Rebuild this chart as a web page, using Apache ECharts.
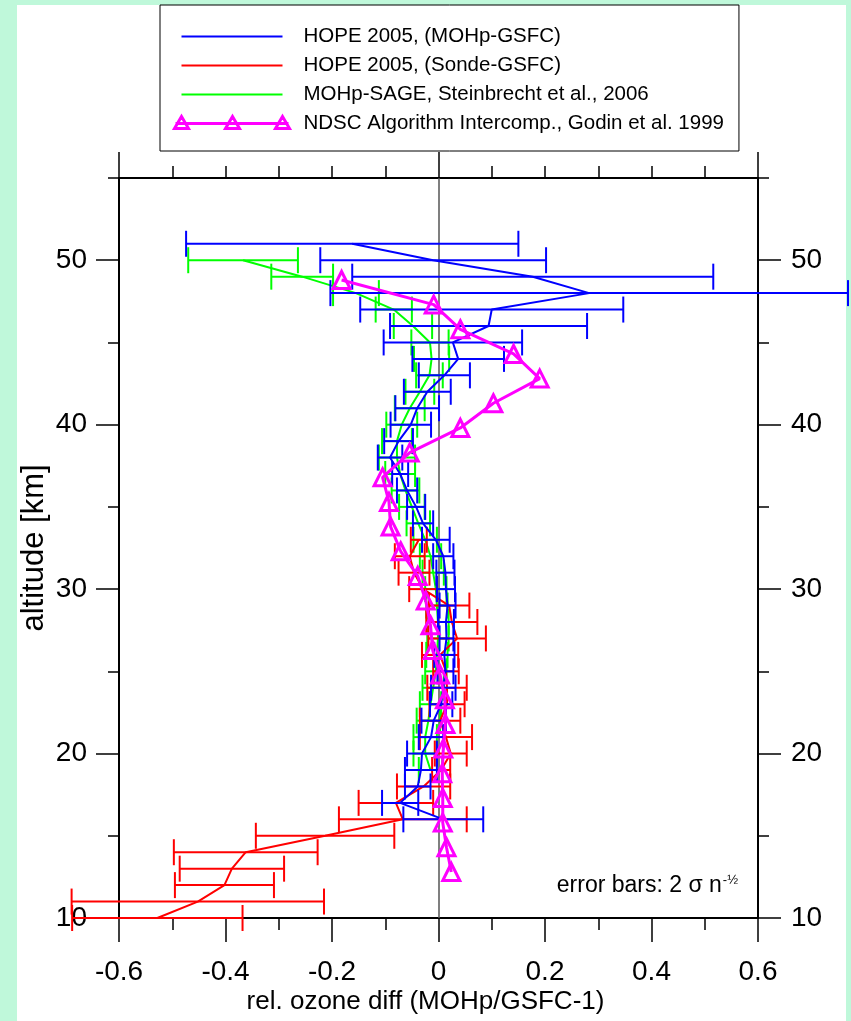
<!DOCTYPE html>
<html><head><meta charset="utf-8">
<script src="https://cdn.jsdelivr.net/npm/echarts@6/dist/echarts.min.js"></script>
<style>html,body{margin:0;padding:0;background:#bff8da;} #c{width:851px;height:1021px;}</style>
</head><body><div id="c"></div>
<script>
// ---- data ----
const seriesNames = ['HOPE 2005, (MOHp-GSFC)', 'HOPE 2005, (Sonde-GSFC)', 'MOHp-SAGE, Steinbrecht et al., 2006', 'NDSC Algorithm Intercomp., Godin et al. 1999'];
const altBlue = [51,50,49,48,47,46,45,44,43,42,41,40,39,38,37,36,35,34,33,32,31,30,29,28,27,26,25,24,23,22,21,20,19,18,17,16];
const valBlue = [-0.162,-0.010,0.177,0.283,0.100,0.094,0.027,0.037,0.011,-0.021,-0.040,-0.052,-0.075,-0.091,-0.072,-0.059,-0.042,-0.029,-0.005,0.009,0.013,0.014,0.017,0.014,0.015,0.011,0.013,0.009,0.005,-0.009,-0.014,-0.031,-0.033,-0.039,-0.072,0.009];
const errBlue = [0.312,0.212,0.339,0.486,0.247,0.185,0.130,0.086,0.048,0.044,0.041,0.038,0.027,0.023,0.015,0.019,0.017,0.019,0.026,0.019,0.017,0.017,0.015,0.015,0.013,0.019,0.015,0.023,0.021,0.023,0.023,0.028,0.030,0.024,0.034,0.075];
const altRed = [10,11,12,13,14,15,16,17,18,19,20,21,22,23,24,25,26,27,28,29,30,31,32,33];
const valRed = [-0.528,-0.452,-0.402,-0.388,-0.362,-0.213,-0.067,-0.080,-0.028,0.005,0.023,0.014,0.003,0.016,0.016,0.014,0.003,0.035,0.025,0.020,-0.029,-0.046,-0.054,-0.037];
const errRed = [0.160,0.237,0.093,0.098,0.135,0.130,0.120,0.070,0.050,0.017,0.030,0.049,0.038,0.033,0.037,0.024,0.034,0.054,0.048,0.038,0.026,0.029,0.028,0.015];
const altGreen = [50,49,48,47,46,45,44,43,42,41,40,39,38,37,36,35,34,33,32,31,30,29,28,27,26,25,24,23,22,21,20,19];
const valGreen = [-0.367,-0.256,-0.155,-0.084,-0.048,-0.016,-0.013,-0.017,-0.035,-0.054,-0.069,-0.078,-0.078,-0.072,-0.062,-0.050,-0.038,-0.025,-0.015,-0.010,-0.005,-0.003,-0.001,-0.001,-0.003,-0.005,-0.010,-0.015,-0.019,-0.025,-0.025,-0.015];
const errGreen = [0.103,0.058,0.043,0.034,0.036,0.035,0.033,0.025,0.027,0.028,0.029,0.028,0.034,0.028,0.026,0.024,0.022,0.022,0.020,0.020,0.020,0.020,0.020,0.020,0.020,0.020,0.020,0.020,0.022,0.022,0.022,0.022];
const altNdsc = [48.8,47.3,45.8,44.3,42.8,41.3,39.8,38.3,36.8,35.3,33.8,32.3,30.8,29.3,27.8,26.3,24.8,23.3,21.8,20.3,18.8,17.3,15.8,14.3,12.8];
const valNdsc = [-0.182,-0.009,0.041,0.141,0.190,0.103,0.041,-0.054,-0.105,-0.093,-0.090,-0.071,-0.039,-0.024,-0.015,-0.011,0.003,0.012,0.013,0.009,0.007,0.008,0.008,0.015,0.024];
const xTickLabels = ['-0.6','-0.4','-0.2','0','0.2','0.4','0.6'];
const yTickLabels = ['10','20','30','40','50'];
const yTickValues = [10,20,30,40,50];

const colors = ['#0000ff','#ff0000','#00ff00','#ff00ff'];
const FONT = 'Liberation Sans, Arial, sans-serif';

function pts(v, a){ return v.map((x,i)=>[x, a[i]]); }
function errPts(v, a, e){ return v.map((x,i)=>[x, a[i], e[i]]); }
function errRender(color){
  return function(params, api){
    const x = api.value(0), y = api.value(1), e = api.value(2);
    const p = api.coord([x - e, y]), q = api.coord([x + e, y]);
    const h = 13, st = {stroke: color, lineWidth: 2};
    return {type:'group', children:[
      {type:'line', shape:{x1:p[0],y1:p[1],x2:q[0],y2:q[1]}, style:st},
      {type:'line', shape:{x1:p[0],y1:p[1]-h,x2:p[0],y2:p[1]+h}, style:st},
      {type:'line', shape:{x1:q[0],y1:q[1]-h,x2:q[0],y2:q[1]+h}, style:st}
    ]};
  };
}
function errSeries(v,a,e,color,z){
  return {type:'custom', renderItem: errRender(color), data: errPts(v,a,e), encode:{x:0,y:1}, clip:false, silent:true, z:z, xAxisIndex:0, yAxisIndex:0};
}

const lineIcon = 'path://M0,0M124,20M7,10L108,10';
const triIcon = 'path://M0,0M124,20M1,10L114,10M7,3L14,15L0,15ZM58,3L65,15L51,15ZM108,3L115,15L101,15Z';

const axisBlack = {color:'#000', width:2};
const tickBlack = {color:'#000', width:1.5};
function xAx(pos, interval, len, extra){
  return Object.assign({type:'value', position:pos, min:-0.6, max:0.6, interval:interval,
    axisLine:{show:false, onZero:false}, axisTick:{show:true, inside:false, length:len, lineStyle:tickBlack},
    axisLabel:{show:false}, splitLine:{show:false}}, extra||{});
}
function yAx(pos, interval, len, extra){
  return Object.assign({type:'value', position:pos, min:10, max:55, interval:interval,
    axisLine:{show:false, onZero:false}, axisTick:{show:true, inside:false, length:len, lineStyle:tickBlack},
    axisLabel:{show:false}, splitLine:{show:false}}, extra||{});
}

const chart = echarts.init(document.getElementById('c'), null, {renderer:'canvas'});
chart.setOption({
  backgroundColor: '#bff8da',
  animation: false,
  textStyle: {fontFamily: FONT},
  graphic: [
    {type:'rect', z:-10, silent:true, shape:{x:17, y:5, width:829, height:1016}, style:{fill:'#ffffff'}},
    {type:'text', z:10, silent:true, right: 851-738, top: 874,
     style:{text:'{a|error bars: 2 σ n}{s|-½}', rich:{a:{fontSize:23, fontFamily:FONT, fill:'#000'}, s:{fontSize:13, fontFamily:FONT, fill:'#000', verticalAlign:'top', padding:[0,0,10,1]}}}}
  ],
  grid: {left:119, right:93, top:178, bottom:103, containLabel:false},
  legend: {
    orient:'vertical', left:160, top:5, padding:[19,15,15,12], itemGap:4, itemWidth:124, itemHeight:20,
    borderColor:'#000', borderWidth:1, backgroundColor:'#fff', selectedMode:false,
    textStyle:{fontFamily:FONT, fontSize:20.5, color:'#000'},
    data: [
      {name: seriesNames[0], icon: lineIcon, itemStyle:{color:'none', borderColor:colors[0], borderWidth:2}},
      {name: seriesNames[1], icon: lineIcon, itemStyle:{color:'none', borderColor:colors[1], borderWidth:2}},
      {name: seriesNames[2], icon: lineIcon, itemStyle:{color:'none', borderColor:colors[2], borderWidth:2}},
      {name: seriesNames[3], icon: triIcon, itemStyle:{color:'none', borderColor:colors[3], borderWidth:3}}
    ]
  },
  xAxis: [
    xAx('bottom', 0.1, 12, {axisLine:{show:true, onZero:false, lineStyle:axisBlack}}),
    xAx('bottom', 0.2, 24, {axisLabel:{show:true, fontSize:28, margin:40, color:'#000', fontFamily:FONT, formatter:(v,i)=>xTickLabels[i]},
       name:'rel. ozone diff (MOHp/GSFC-1)', nameLocation:'middle', nameGap:71, nameMoveOverlap:false,
       nameTextStyle:{fontSize:26, color:'#000', fontFamily:FONT, padding:[0,26,0,0]}}),
    xAx('top', 0.1, 12, {axisLine:{show:true, onZero:false, lineStyle:axisBlack}}),
    xAx('top', 0.6, 26)
  ],
  yAxis: [
    yAx('left', 5, 11, {axisLine:{show:true, onZero:false, lineStyle:axisBlack}}),
    yAx('left', 10, 23, {axisTick:{show:true, length:23, lineStyle:tickBlack, customValues:yTickValues},
       axisLabel:{show:true, fontSize:28, margin:32, color:'#000', fontFamily:FONT, customValues:yTickValues, formatter:(v)=>yTickLabels[yTickValues.indexOf(v)]},
       name:'altitude [km]', nameLocation:'middle', nameGap:69, nameMoveOverlap:false, nameTextStyle:{fontSize:31, color:'#000', fontFamily:FONT}}),
    yAx('right', 5, 11, {axisLine:{show:true, onZero:false, lineStyle:axisBlack}}),
    yAx('right', 10, 23, {axisTick:{show:true, length:23, lineStyle:tickBlack, customValues:yTickValues},
       axisLabel:{show:true, fontSize:28, margin:33, color:'#000', fontFamily:FONT, customValues:yTickValues, formatter:(v)=>yTickLabels[yTickValues.indexOf(v)]}})
  ],
  series: [
    errSeries(valGreen, altGreen, errGreen, colors[2], 2),
    {name: seriesNames[2], type:'line', data: pts(valGreen, altGreen), symbol:'none', clip:false, z:3, lineStyle:{color:colors[2], width:2}, itemStyle:{color:colors[2]}},
    errSeries(valRed, altRed, errRed, colors[1], 4),
    {name: seriesNames[1], type:'line', data: pts(valRed, altRed), symbol:'none', clip:false, z:5, lineStyle:{color:colors[1], width:2}, itemStyle:{color:colors[1]}},
    errSeries(valBlue, altBlue, errBlue, colors[0], 6),
    {name: seriesNames[0], type:'line', data: pts(valBlue, altBlue), symbol:'none', clip:false, z:7, lineStyle:{color:colors[0], width:2}, itemStyle:{color:colors[0]},
     markLine:{silent:true, symbol:['none','none'], label:{show:false}, lineStyle:{color:'#555', width:1.5, type:'solid'}, data:[{xAxis:0}], z:1}},
    {name: seriesNames[3], type:'line', data: pts(valNdsc, altNdsc), symbol:'triangle', symbolSize:17, clip:false, z:8,
     lineStyle:{color:colors[3], width:3}, itemStyle:{color:'none', borderColor:colors[3], borderWidth:3}}
  ]
});
</script></body></html>
